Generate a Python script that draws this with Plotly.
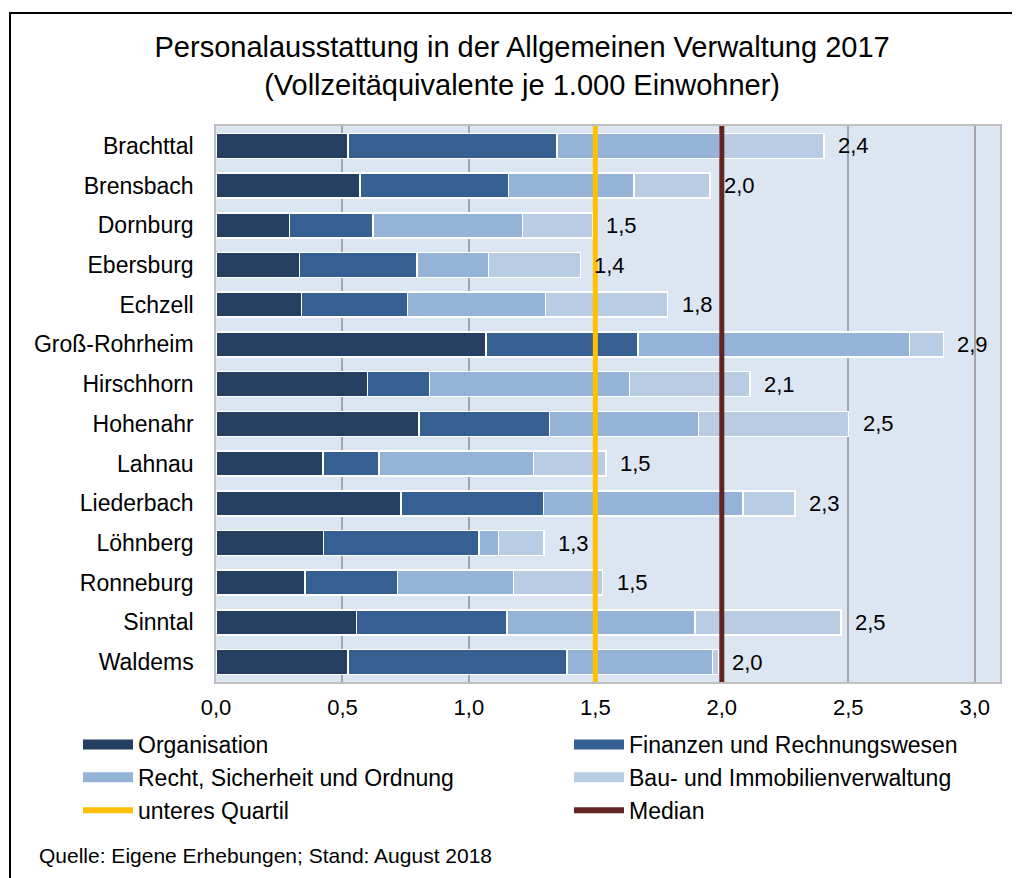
import plotly.graph_objects as go

categories = ["Brachttal", "Brensbach", "Dornburg", "Ebersburg", "Echzell", "Groß-Rohrheim",
              "Hirschhorn", "Hohenahr", "Lahnau", "Liederbach", "Löhnberg", "Ronneburg",
              "Sinntal", "Waldems"]
organisation = [0.522, 0.570, 0.290, 0.330, 0.338, 1.067, 0.600, 0.803, 0.424, 0.731, 0.426, 0.352, 0.555, 0.522]
finanzen = [0.827, 0.587, 0.330, 0.464, 0.419, 0.602, 0.244, 0.516, 0.220, 0.563, 0.614, 0.366, 0.596, 0.866]
recht = [0.642, 0.495, 0.591, 0.284, 0.545, 1.073, 0.791, 0.588, 0.611, 0.789, 0.077, 0.458, 0.742, 0.576]
bau = [0.413, 0.301, 0.277, 0.363, 0.484, 0.134, 0.476, 0.594, 0.287, 0.206, 0.180, 0.353, 0.579, 0.022]
series_names = ["Organisation", "Finanzen und Rechnungswesen",
                "Recht, Sicherheit und Ordnung", "Bau- und Immobilienverwaltung"]
series_colors = ["#243F60", "#366092", "#95B3D7", "#B8CCE4"]
unteres_quartil = 1.5
median = 2.0
x_ticks = [0, 0.5, 1.0, 1.5, 2.0, 2.5, 3.0]

FONT = "Liberation Sans, Arial, sans-serif"
OFF = 8  # page body margin
W, H = 1020 - OFF, 878 - OFF
L, R, T = 216 - OFF, 20, 126 - OFF
B = H - (682 - OFF)
PW, PH = W - L - R, H - T - B

fig = go.Figure()
for name, vals, col in zip(series_names, [organisation, finanzen, recht, bau], series_colors):
    fig.add_trace(go.Bar(y=categories, x=vals, orientation="h", name=name,
                         marker=dict(color=col, line=dict(color="white", width=1.5)),
                         showlegend=False, hoverinfo="x+y"))

totals = [a + b + c + d for a, b, c, d in zip(organisation, finanzen, recht, bau)]
for cat, tot in zip(categories, totals):
    fig.add_annotation(x=tot, y=cat, xref="x", yref="y", text=f"{tot:.1f}".replace(".", ","),
                       showarrow=False, xanchor="left", yanchor="middle", xshift=12,
                       font=dict(size=22, color="black", family=FONT))

# legend entries (two columns -> two legends)
col1 = [(series_names[0], series_colors[0], 10), (series_names[2], series_colors[2], 10),
        ("unteres Quartil", "#FFC000", 6)]
col2 = [(series_names[1], series_colors[1], 10), (series_names[3], series_colors[3], 10),
        ("Median", "#632523", 6)]
for lg, items in [("legend", col1), ("legend2", col2)]:
    for name, col, w in items:
        fig.add_trace(go.Scatter(x=[None], y=[None], mode="lines", name=name, legend=lg,
                                 line=dict(color=col, width=w)))

# reference lines
for val, col in [(unteres_quartil, "#FFC000"), (median, "#632523")]:
    fig.add_shape(type="line", xref="x", yref="paper", x0=val, x1=val, y0=0, y1=1,
                  line=dict(color=col, width=5), layer="above")

def px2x(px):
    return (px - L) / PW

def py2y(py):
    return (T + PH - py) / PH

# outer frame: top and left edges visible, right/bottom beyond the picture
fig.add_shape(type="rect", xref="paper", yref="paper",
              x0=px2x(10 - OFF), x1=px2x(1040 - OFF),
              y0=py2y(900 - OFF), y1=py2y(13 - OFF),
              line=dict(color="black", width=2), fillcolor="rgba(0,0,0,0)")

fig.add_annotation(text="Quelle: Eigene Erhebungen; Stand: August 2018",
                   xref="paper", yref="paper", x=px2x(37 - OFF), y=py2y(855 - OFF),
                   xanchor="left", yanchor="middle", showarrow=False,
                   font=dict(size=21, color="black", family=FONT))

legend_common = dict(orientation="v", xref="container", yref="container",
                     xanchor="left", yanchor="top", itemwidth=50,
                     font=dict(size=23, family=FONT), bgcolor="rgba(0,0,0,0)",
                     tracegroupgap=0, traceorder="normal")

fig.update_layout(
    width=W, height=H,
    margin=dict(l=L, r=R, t=T, b=B, autoexpand=False),
    paper_bgcolor="white", plot_bgcolor="#DCE6F2",
    separators=",.",
    barmode="stack", bargap=0.37,
    font=dict(family=FONT, color="black"),
    title=dict(text="Personalausstattung in der Allgemeinen Verwaltung 2017<br>(Vollzeitäquivalente je 1.000 Einwohner)",
               x=0.508, xanchor="center", xref="container", yref="container",
               y=1 - 49 / H, yanchor="middle",
               font=dict(size=29, family=FONT, color="black")),
    xaxis=dict(range=[0, 3.1], tickvals=x_ticks, tickformat=".1f",
               showgrid=True, gridcolor="#A6A6A6", gridwidth=1.5,
               showline=True, linecolor="#BFBFBF", linewidth=1.5, mirror=True,
               ticks="outside", ticklen=5, tickcolor="rgba(0,0,0,0)",
               tickfont=dict(size=22, family=FONT), zeroline=False, automargin=False),
    yaxis=dict(autorange="reversed", showline=True, linecolor="#BFBFBF", linewidth=1.5, mirror=True,
               ticks="outside", ticklen=16, tickcolor="rgba(0,0,0,0)",
               tickfont=dict(size=23, family=FONT), automargin=False),
    legend=dict(x=70 / W, y=1 - 715 / H, **legend_common),
    legend2=dict(x=561 / W, y=1 - 715 / H, **legend_common),
)

fig.write_html("out.html")
